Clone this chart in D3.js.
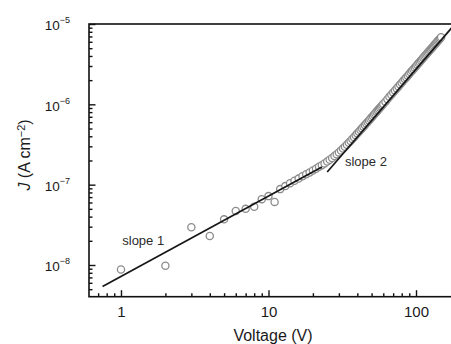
<!DOCTYPE html>
<html>
<head>
<meta charset="utf-8">
<script src="https://cdn.jsdelivr.net/npm/d3@7"></script>
<style>
  html, body { margin: 0; padding: 0; background: #fff; }
  svg { display: block; }
  text { font-family: "Liberation Sans", Arial, Helvetica, sans-serif; }
</style>
</head>
<body>
<svg id="chart" width="451" height="344"></svg>
<script>
// ---- data ----
const voltage = [1,2,3,4,5,6,7,8,9,10,11,12,13,14,15,16,17,18,19,20,
  21,22,23,24,25,26,27,28,29,30,31,32,33,34,35,36,37,38,39,40,
  41,42,43,44,45,46,47,48,49,50,51,52,53,54,55,56,57,58,59,60,
  62,64,66,68,70,72,74,76,78,80,82,84,86,88,90,92,94,96,98,100,
  102,104,106,108,110,112,114,116,118,120,122,124,126,128,130,
  132,134,136,138,140,142,144,146,148];
const currentDensity = [8.8e-9,9.8e-9,2.95e-8,2.3e-8,3.7e-8,4.7e-8,5.0e-8,5.3e-8,6.6e-8,7.2e-8,
  6.1e-8,8.8e-8,9.6e-8,1.04e-7,1.12e-7,1.19e-7,1.27e-7,1.35e-7,1.42e-7,1.50e-7,
  1.58e-7,1.67e-7,1.75e-7,1.84e-7,1.94e-7,2.04e-7,2.15e-7,2.27e-7,2.39e-7,2.52e-7,
  2.66e-7,2.81e-7,2.97e-7,3.14e-7,3.32e-7,3.50e-7,3.70e-7,3.90e-7,4.11e-7,4.33e-7,
  4.55e-7,4.78e-7,5.02e-7,5.26e-7,5.51e-7,5.77e-7,6.04e-7,6.31e-7,6.59e-7,6.88e-7,
  7.17e-7,7.47e-7,7.77e-7,8.08e-7,8.41e-7,8.73e-7,9.06e-7,9.40e-7,9.75e-7,1.01e-6,
  1.08e-6,1.16e-6,1.24e-6,1.32e-6,1.40e-6,1.49e-6,1.57e-6,1.67e-6,1.76e-6,1.86e-6,
  1.96e-6,2.06e-6,2.16e-6,2.27e-6,2.38e-6,2.50e-6,2.61e-6,2.73e-6,2.85e-6,2.98e-6,
  3.11e-6,3.24e-6,3.37e-6,3.51e-6,3.65e-6,3.79e-6,3.93e-6,4.08e-6,4.23e-6,4.38e-6,
  4.54e-6,4.70e-6,4.86e-6,5.03e-6,5.19e-6,5.36e-6,5.54e-6,5.71e-6,5.89e-6,6.08e-6,
  6.26e-6,6.45e-6,6.64e-6,6.83e-6];

const slope1Fit = [[0.75, 5.4e-9], [23, 1.66e-7]];
const slope2Fit = [[25, 1.44e-7], [175, 9.0e-6]];

const xMajorTicks = [1, 10, 100];
const xMinorTicks = [0.7,0.8,0.9,2,3,4,5,6,7,8,9,20,30,40,50,60,70,80,90];
const yMajorTicks = [1e-8, 1e-7, 1e-6, 1e-5];
const yMajorExp = ["−8", "−7", "−6", "−5"];
const yMinorTicks = [5e-9,6e-9,7e-9,8e-9,9e-9,
  2e-8,3e-8,4e-8,5e-8,6e-8,7e-8,8e-8,9e-8,
  2e-7,3e-7,4e-7,5e-7,6e-7,7e-7,8e-7,9e-7,
  2e-6,3e-6,4e-6,5e-6,6e-6,7e-6,8e-6,9e-6];

const annotations = [
  {text: "slope 1", v: 1.02, j: 1.77e-8},
  {text: "slope 2", v: 33.0, j: 1.71e-7}
];

// ---- layout ----
const plotLeft = 89, plotRight = 455, plotTop = 24, plotBottom = 296.7;

const x = d3.scaleLog().domain([0.607, 183.8]).range([plotLeft, plotRight]);
const y = d3.scaleLog().domain([4.03e-9, 1e-5]).range([plotBottom, plotTop]);

const svg = d3.select("#chart");

// frame
svg.append("rect")
  .attr("x", plotLeft).attr("y", plotTop)
  .attr("width", plotRight - plotLeft).attr("height", plotBottom - plotTop)
  .attr("fill", "none").attr("stroke", "#111").attr("stroke-width", 1.6);

// x axis
const gxMinor = svg.append("g").attr("transform", `translate(0,${plotBottom})`)
  .call(d3.axisBottom(x).tickValues(xMinorTicks).tickSize(-3.5).tickFormat(""));
const gx = svg.append("g").attr("transform", `translate(0,${plotBottom})`)
  .call(d3.axisBottom(x).tickValues(xMajorTicks).tickSize(-6.5).tickPadding(9.4)
    .tickFormat(d => d3.format("d")(d)));
[gxMinor, gx].forEach(g => {
  g.select(".domain").remove();
  g.selectAll("line").attr("stroke", "#111").attr("stroke-width", 1.4);
});
gx.selectAll("text").attr("font-size", 15).attr("fill", "#1a1a1a")
  .attr("font-family", "'Liberation Sans', Arial, sans-serif");

// y axis
const gyMinor = svg.append("g").attr("transform", `translate(${plotLeft},0)`)
  .call(d3.axisLeft(y).tickValues(yMinorTicks).tickSize(-3.5).tickFormat(""));
const gy = svg.append("g").attr("transform", `translate(${plotLeft},0)`)
  .call(d3.axisLeft(y).tickValues(yMajorTicks).tickSize(-6.5).tickPadding(19).tickFormat(""));
[gyMinor, gy].forEach(g => {
  g.select(".domain").remove();
  g.selectAll("line").attr("stroke", "#111").attr("stroke-width", 1.4);
});
gy.selectAll("text").each(function(d) {
  const t = d3.select(this)
    .attr("font-size", 13.5).attr("fill", "#1a1a1a").attr("dy", "0.42em")
    .attr("font-family", "'Liberation Sans', Arial, sans-serif");
  t.append("tspan").text("10");
  t.append("tspan").attr("font-size", 9).attr("dy", "-0.75em").text(yMajorExp[yMajorTicks.indexOf(d)]);
});

// axis titles
svg.append("text")
  .attr("x", (plotLeft + 451) / 2 + 3).attr("y", 341)
  .attr("text-anchor", "middle").attr("font-size", 16).attr("fill", "#1a1a1a")
  .text("Voltage (V)");

const yt = svg.append("text")
  .attr("transform", "translate(30,155) rotate(-90)")
  .attr("text-anchor", "middle").attr("font-size", 16).attr("fill", "#1a1a1a");
yt.append("tspan").attr("font-style", "italic").text("J");
yt.append("tspan").text(" (A cm");
yt.append("tspan").attr("font-size", 11).attr("dy", "-0.45em").text("−2");
yt.append("tspan").attr("dy", "0.3em").text(")");

// clip
svg.append("clipPath").attr("id", "clip").append("rect")
  .attr("x", plotLeft).attr("y", plotTop)
  .attr("width", plotRight - plotLeft).attr("height", plotBottom - plotTop);

const plot = svg.append("g").attr("clip-path", "url(#clip)");

// data circles
const points = voltage.map((v, i) => ({v, j: currentDensity[i]}));
plot.selectAll("circle.pt").data(points).join("circle")
  .attr("class", "pt")
  .attr("cx", d => x(d.v)).attr("cy", d => y(d.j))
  .attr("r", 3.6)
  .attr("fill", "#fff").attr("stroke", "#8c8c8c").attr("stroke-width", 1.3);

// fit lines
const line = d3.line().x(d => x(d[0])).y(d => y(d[1]));
[slope1Fit, slope2Fit].forEach(seg => {
  plot.append("path").attr("d", line(seg))
    .attr("fill", "none").attr("stroke", "#161616").attr("stroke-width", 1.7);
});

// annotations
svg.selectAll("text.ann").data(annotations).join("text")
  .attr("class", "ann")
  .attr("x", d => x(d.v)).attr("y", d => y(d.j))
  .attr("font-size", 13).attr("fill", "#2a2a2a")
  .text(d => d.text);
</script>
</body>
</html>
